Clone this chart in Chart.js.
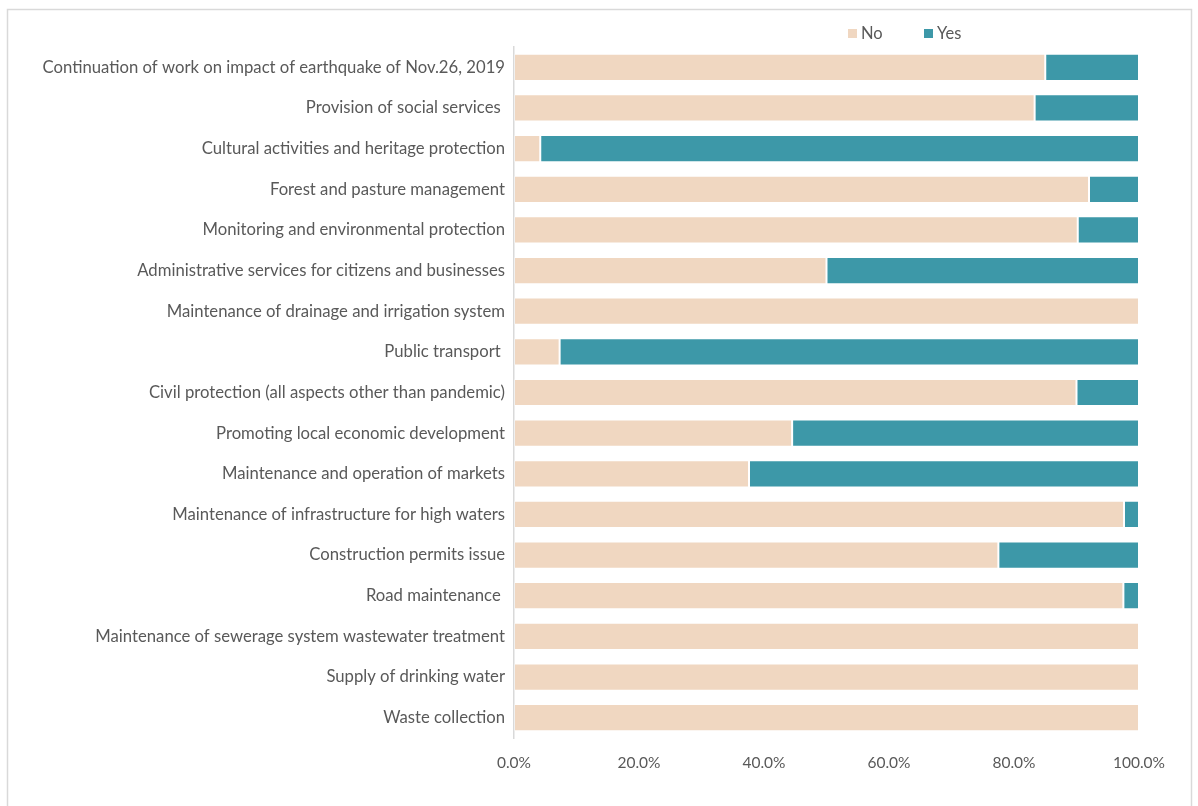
<!DOCTYPE html>
<html>
<head>
<meta charset="utf-8">
<script src="https://cdn.jsdelivr.net/npm/chart.js@4"></script>
<style>
  html, body { margin: 0; padding: 0; background: #ffffff; }
  #wrap { width: 1198px; height: 806px; position: relative; }
</style>
</head>
<body>
<div id="wrap"><canvas id="chart" width="1198" height="806"></canvas></div>
<script>
// Municipal services: share of answers per service (percent)
const categories = [
  "Continuation of work on impact of earthquake of Nov.26, 2019",
  "Provision of social services ",
  "Cultural activities and heritage protection",
  "Forest and pasture management",
  "Monitoring and environmental protection",
  "Administrative services for citizens and businesses",
  "Maintenance of drainage and irrigation system",
  "Public transport ",
  "Civil protection (all aspects other than pandemic)",
  "Promoting local economic development",
  "Maintenance and operation of markets",
  "Maintenance of infrastructure for high waters",
  "Construction permits issue",
  "Road maintenance ",
  "Maintenance of sewerage system wastewater treatment",
  "Supply of drinking water",
  "Waste collection"
];
const noValues  = [85.0, 83.3, 4.2, 92.0, 90.2, 50.0, 100, 7.3, 90.0, 44.5, 37.6, 97.6, 77.5, 97.5, 100, 100, 100];
const yesValues = [15.0, 16.7, 95.8, 8.0, 9.8, 50.0, 0, 92.7, 10.0, 55.5, 62.4, 2.4, 22.5, 2.5, 0, 0, 0];
const xTicks = [0, 20, 40, 60, 80, 100];

const FONT = "Lato, 'Open Sans', sans-serif";
const TEXT = "#595959";

// Outer frame around the whole chart
const framePlugin = {
  id: 'frame',
  beforeDraw(chart) {
    const ctx = chart.ctx;
    ctx.save();
    ctx.fillStyle = '#ffffff';
    ctx.fillRect(0, 0, chart.width, chart.height);
    ctx.strokeStyle = '#d9d9d9';
    ctx.lineWidth = 1.5;
    ctx.strokeRect(7.5, 9.5, 1184, 820);
    ctx.restore();
  }
};

// Compact legend in the upper right
const legendPlugin = {
  id: 'topLegend',
  afterDraw(chart) {
    const ctx = chart.ctx;
    const xs = [848, 924];
    ctx.save();
    ctx.font = "16.5px " + FONT;
    ctx.textBaseline = 'middle';
    chart.data.datasets.forEach((ds, i) => {
      ctx.fillStyle = ds.backgroundColor;
      ctx.fillRect(xs[i], 29, 9, 9);
      ctx.fillStyle = TEXT;
      ctx.fillText(ds.label, xs[i] + 13, 33.5);
    });
    ctx.restore();
  }
};

new Chart(document.getElementById('chart'), {
  type: 'bar',
  data: {
    labels: categories,
    datasets: [
      { label: 'No',  data: noValues,  backgroundColor: '#F0D7C1', borderColor: 'rgba(255,255,255,0.22)', borderWidth: 1, borderSkipped: false },
      { label: 'Yes', data: yesValues, backgroundColor: '#3D98A8', borderColor: 'rgba(255,255,255,0.22)', borderWidth: 1, borderSkipped: false }
    ]
  },
  options: {
    indexAxis: 'y',
    responsive: false,
    animation: false,
    devicePixelRatio: 1,
    layout: { padding: { left: 0, right: 59, top: 47, bottom: 0 } },
    datasets: { bar: { barPercentage: 0.67, categoryPercentage: 1.0 } },
    plugins: {
      legend: { display: false },
      tooltip: { enabled: false }
    },
    scales: {
      x: {
        stacked: true,
        min: 0,
        max: 100,
        afterBuildTicks(scale) { scale.ticks = xTicks.map(v => ({ value: v })); },
        afterFit(scale) { scale.height = 68; },
        grid: { display: false, drawTicks: false },
        border: { display: false },
        ticks: {
          padding: 16,
          color: TEXT,
          font: { family: FONT, size: 15.5 },
          callback: v => v.toFixed(1) + '%'
        }
      },
      y: {
        stacked: true,
        afterFit(scale) { scale.width = 514; },
        grid: { display: false, drawTicks: false },
        border: { display: true, color: '#d9d9d9', width: 1.5 },
        ticks: {
          padding: 9,
          color: TEXT,
          font: { family: FONT, size: 16.7 }
        }
      }
    }
  },
  plugins: [framePlugin, legendPlugin]
});
</script>
</body>
</html>
